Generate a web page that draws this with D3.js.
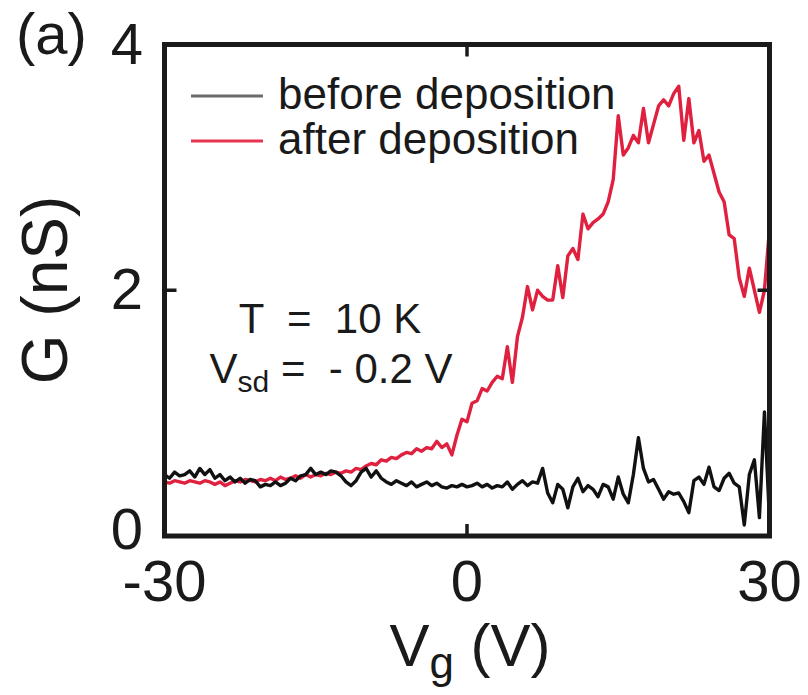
<!DOCTYPE html>
<html><head><meta charset="utf-8">
<script src="https://cdn.jsdelivr.net/npm/d3@7"></script>
<style>body{margin:0;background:#fff}svg{display:block}text{font-family:"Liberation Sans",Arial,Helvetica,sans-serif;fill:#1a1a1a}</style>
</head><body>
<script>
const vg = [-30,-29.5,-29,-28.5,-28,-27.5,-27,-26.5,-26,-25.5,-25,-24.5,-24,-23.5,-23,-22.5,-22,-21.5,-21,-20.5,
-20,-19.5,-19,-18.5,-18,-17.5,-17,-16.5,-16,-15.5,-15,-14.5,-14,-13.5,-13,-12.5,-12,-11.5,-11,-10.5,
-10,-9.5,-9,-8.5,-8,-7.5,-7,-6.5,-6,-5.5,-5,-4.5,-4,-3.5,-3,-2.5,-2,-1.5,-1,-0.5,
0,0.5,1,1.5,2,2.5,3,3.5,4,4.5,5,5.5,6,6.5,7,7.5,8,8.5,9,9.5,
10,10.5,11,11.5,12,12.5,13,13.5,14,14.5,15,15.5,16,16.5,17,17.5,18,18.5,19,19.5,
20,20.5,21,21.5,22,22.5,23,23.5,24,24.5,25,25.5,26,26.5,27,27.5,28,28.5,29,29.5,30];
const gBefore = [0.50,0.47,0.52,0.49,0.50,0.53,0.48,0.55,0.50,0.54,0.47,0.50,0.45,0.48,0.44,0.47,0.43,0.46,0.45,0.40,
0.42,0.41,0.44,0.41,0.43,0.47,0.45,0.49,0.50,0.55,0.50,0.52,0.50,0.53,0.52,0.49,0.44,0.41,0.45,0.52,
0.55,0.48,0.53,0.47,0.44,0.42,0.45,0.43,0.41,0.44,0.40,0.42,0.44,0.41,0.43,0.40,0.39,0.41,0.40,0.42,
0.40,0.41,0.43,0.40,0.42,0.39,0.41,0.40,0.44,0.38,0.42,0.45,0.41,0.44,0.43,0.55,0.35,0.27,0.42,0.38,
0.23,0.40,0.47,0.36,0.41,0.38,0.32,0.42,0.40,0.30,0.48,0.34,0.27,0.50,0.80,0.55,0.44,0.46,0.38,0.30,
0.36,0.34,0.35,0.28,0.19,0.45,0.48,0.42,0.56,0.40,0.37,0.47,0.51,0.43,0.40,0.09,0.50,0.62,0.15,1.01,0.13];
const gAfter = [0.44,0.43,0.45,0.44,0.43,0.45,0.44,0.43,0.45,0.44,0.42,0.44,0.41,0.43,0.45,0.44,0.46,0.45,0.44,0.46,
0.45,0.47,0.45,0.48,0.46,0.47,0.49,0.47,0.50,0.48,0.50,0.49,0.51,0.50,0.52,0.51,0.53,0.52,0.55,0.54,
0.57,0.59,0.58,0.62,0.61,0.64,0.63,0.66,0.68,0.67,0.71,0.69,0.72,0.71,0.77,0.72,0.75,0.66,0.82,0.95,
0.93,1.08,1.10,1.20,1.18,1.25,1.30,1.28,1.54,1.25,1.62,1.78,2.03,1.84,2.00,1.95,1.92,1.92,2.20,1.94,
2.28,2.34,2.25,2.62,2.50,2.55,2.58,2.62,2.72,2.90,3.42,3.10,3.16,3.26,3.20,3.48,3.20,3.35,3.50,3.55,
3.50,3.60,3.66,3.22,3.56,3.20,3.30,3.05,3.10,2.95,2.80,2.72,2.45,2.42,2.10,1.95,2.18,2.00,1.82,2.00,2.50];
const xTicks = [-30, 0, 30];
const yTicks = [0, 2, 4];
const seriesNames = ["before deposition", "after deposition"];
const seriesColors = ["#111111", "#e0203f"];
const legendColors = ["#6a6a6a", "#e8334f"];

const W = 808, H = 695;
const svg = d3.select("body").append("svg").attr("width", W).attr("height", H);
const x = d3.scaleLinear().domain([-30, 30]).range([164.5, 769.5]);
const y = d3.scaleLinear().domain([0, 4]).range([536, 44.5]);

// curves
const line = d3.line().x(d => x(d[0])).y(d => y(d[1]));
const series = [gBefore, gAfter];
[1, 0].forEach(i => {
  svg.append("path").datum(vg.map((v, k) => [v, series[i][k]]))
    .attr("d", line).attr("fill", "none").attr("stroke", seriesColors[i])
    .attr("stroke-width", 3.4).attr("stroke-linejoin", "round");
});

// frame
svg.append("rect").attr("x", x(-30)).attr("y", y(4)).attr("width", x(30) - x(-30)).attr("height", y(0) - y(4))
  .attr("fill", "none").attr("stroke", "#1a1a1a").attr("stroke-width", 5);

// ticks (inward)
const tl = 12;
svg.append("g").selectAll("line").data([0]).join("line")
  .attr("x1", d => x(d)).attr("x2", d => x(d)).attr("y1", y(0)).attr("y2", y(0) - tl)
  .attr("stroke", "#1a1a1a").attr("stroke-width", 3.5);
svg.append("g").selectAll("line").data([0]).join("line")
  .attr("x1", d => x(d)).attr("x2", d => x(d)).attr("y1", y(4)).attr("y2", y(4) + tl)
  .attr("stroke", "#1a1a1a").attr("stroke-width", 3.5);
svg.append("g").selectAll("line").data([2]).join("line")
  .attr("x1", x(-30)).attr("x2", x(-30) + tl).attr("y1", d => y(d)).attr("y2", d => y(d))
  .attr("stroke", "#1a1a1a").attr("stroke-width", 3.5);
svg.append("g").selectAll("line").data([2]).join("line")
  .attr("x1", x(30)).attr("x2", x(30) - tl).attr("y1", d => y(d)).attr("y2", d => y(d))
  .attr("stroke", "#1a1a1a").attr("stroke-width", 3.5);

// tick labels
svg.append("g").selectAll("text").data(xTicks).join("text")
  .attr("x", d => x(d)).attr("y", 601).attr("text-anchor", "middle")
  .attr("font-size", 58).text(d => d);
svg.append("g").selectAll("text").data(yTicks).join("text")
  .attr("x", 143).attr("y", d => y(d) + (d === 0 ? 13 : 19)).attr("text-anchor", "end")
  .attr("font-size", 58).text(d => d);

// axis titles
const xt = svg.append("text").attr("x", 470).attr("y", 666).attr("text-anchor", "middle").attr("font-size", 60);
xt.append("tspan").text("V");
xt.append("tspan").attr("font-size", 44).attr("dy", 12).text("g");
xt.append("tspan").attr("dy", -12).text(" (V)");
svg.append("text").attr("transform", "translate(67,290) rotate(-90)").attr("text-anchor", "middle")
  .attr("font-size", 64).text("G (nS)");

// panel label
svg.append("text").attr("x", 16).attr("y", 54).attr("font-size", 58).text("(a)");

// legend
const leg = svg.append("g");
seriesNames.forEach((n, i) => {
  const yy = 96 + i * 45;
  leg.append("line").attr("x1", 191).attr("x2", 263).attr("y1", yy).attr("y2", yy)
    .attr("stroke", legendColors[i]).attr("stroke-width", 3);
  leg.append("text").attr("x", 278).attr("y", yy + 13).attr("font-size", 44).text(n);
});

// annotation
svg.append("text").attr("x", 330).attr("y", 333).attr("text-anchor", "middle").attr("font-size", 42)
  .style("white-space", "pre").text("T  =  10 K");
const an = svg.append("text").attr("x", 331).attr("y", 383).attr("text-anchor", "middle").attr("font-size", 42)
  .style("white-space", "pre");
an.append("tspan").text("V");
an.append("tspan").attr("font-size", 30).attr("dy", 9).text("sd");
an.append("tspan").attr("dy", -9).text(" =  - 0.2 V");
</script>
</body></html>
